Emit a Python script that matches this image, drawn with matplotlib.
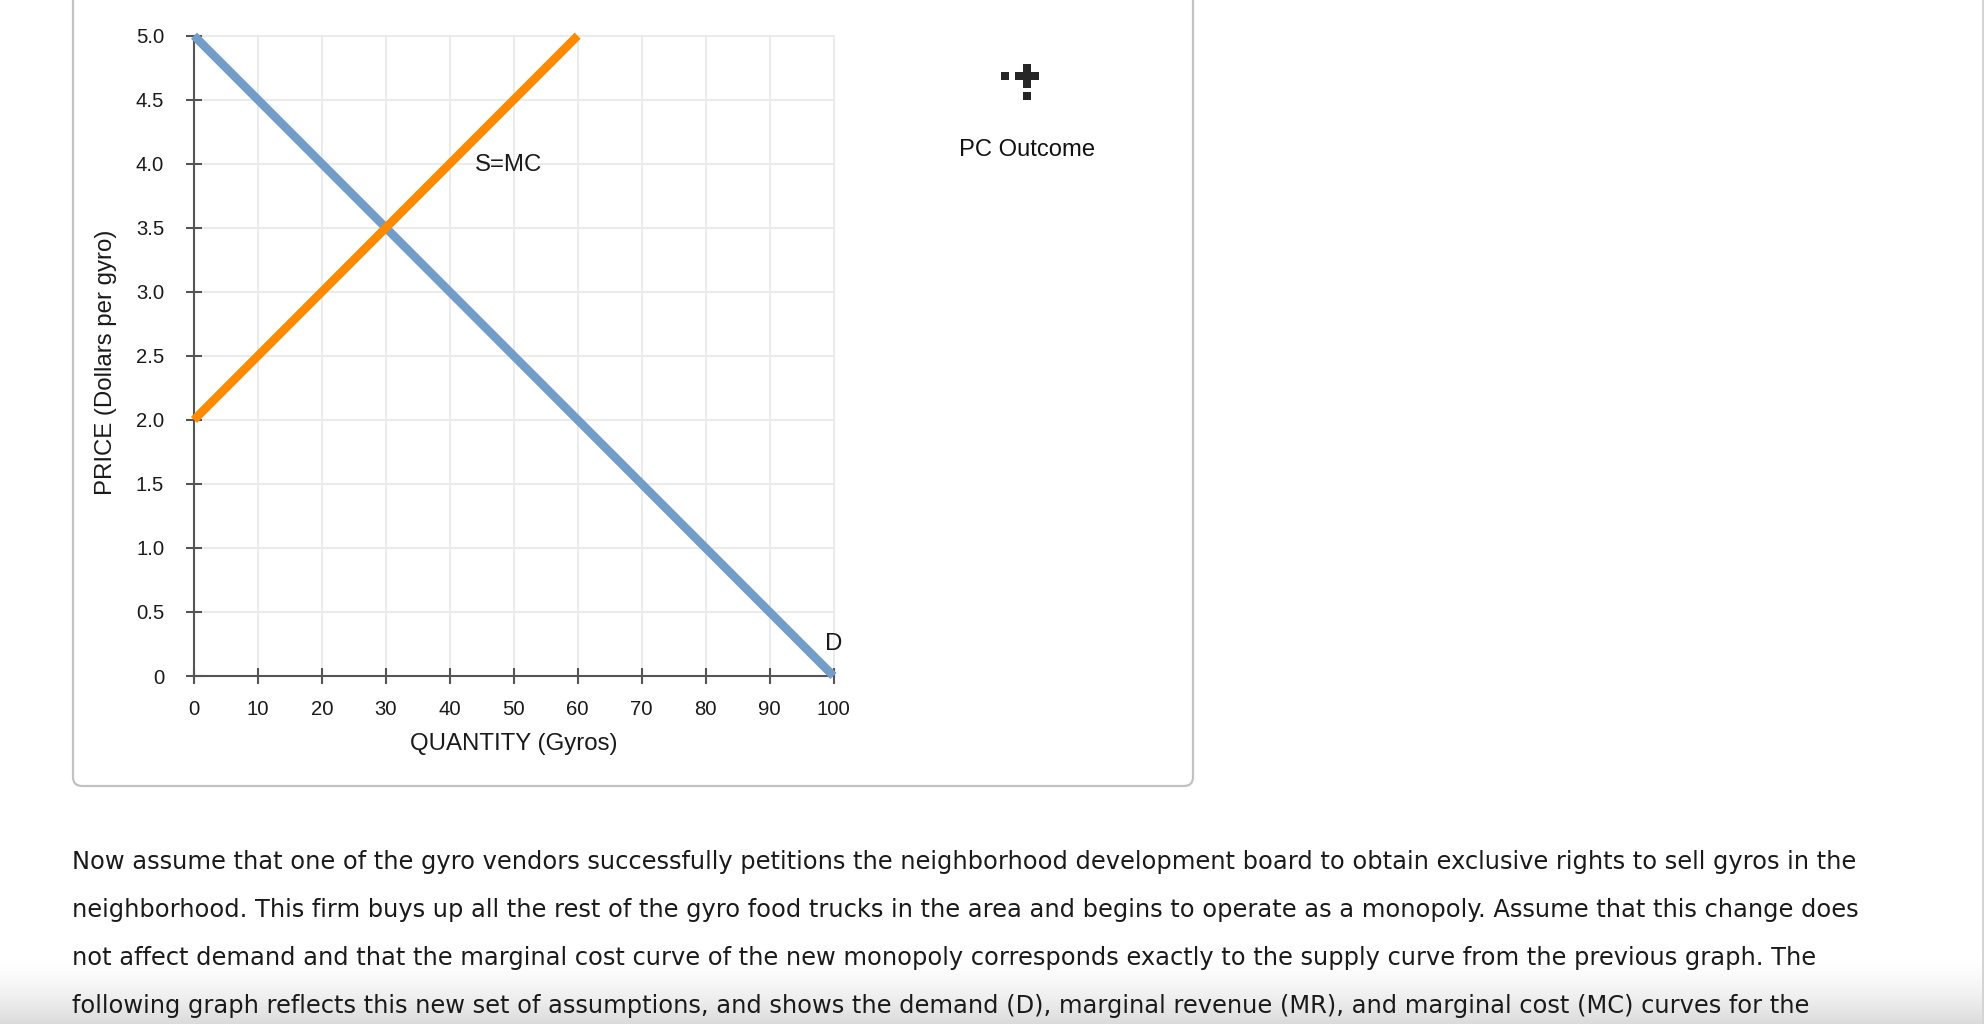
import numpy as np
import matplotlib
matplotlib.use("Agg")
import matplotlib.pyplot as plt
from matplotlib.patches import FancyBboxPatch, Rectangle

# ---- data ----
demand_qty = [0, 100]
demand_price = [5.0, 0.0]
supply_qty = [0, 60]
supply_price = [2.0, 5.0]
x_ticks = [0, 10, 20, 30, 40, 50, 60, 70, 80, 90, 100]
y_ticks = [0, 0.5, 1.0, 1.5, 2.0, 2.5, 3.0, 3.5, 4.0, 4.5, 5.0]
y_tick_labels = ["0", "0.5", "1.0", "1.5", "2.0", "2.5", "3.0", "3.5", "4.0", "4.5", "5.0"]
body_lines = [
    "Now assume that one of the gyro vendors successfully petitions the neighborhood development board to obtain exclusive rights to sell gyros in the",
    "neighborhood. This firm buys up all the rest of the gyro food trucks in the area and begins to operate as a monopoly. Assume that this change does",
    "not affect demand and that the marginal cost curve of the new monopoly corresponds exactly to the supply curve from the previous graph. The",
    "following graph reflects this new set of assumptions, and shows the demand (D), marginal revenue (MR), and marginal cost (MC) curves for the",
]

W, H = 1984, 1024
fig = plt.figure(figsize=(W / 100, H / 100), dpi=100, facecolor="white")

# page overlay in pixel coordinates
page = fig.add_axes([0, 0, 1, 1], zorder=0)
page.set_xlim(0, W)
page.set_ylim(H, 0)
page.axis("off")

# bottom fade
grad = np.linspace(0, 1, 68)[:, None] ** 1.6
rgba = np.ones((68, 1, 4))
rgba[..., :3] = 0.86
rgba[..., 3] = grad
page.imshow(rgba, extent=[0, W, H, 956], aspect="auto", zorder=0, interpolation="bilinear")
page.set_xlim(0, W)
page.set_ylim(H, 0)

# scrollbar edge
page.add_patch(Rectangle((1982, 0), 2, H, fc="#d4d4d4", ec="none", zorder=1))

# card
page.add_patch(FancyBboxPatch((73, -60), 1120, 846, boxstyle="round,pad=0,rounding_size=9",
                              fc="white", ec="#c2c2c2", lw=1.6, zorder=1))

# icon
icon = "#262626"
for (x, y, w, h) in [(1001, 72, 8, 8), (1015, 72, 24, 8), (1023, 64, 8, 24), (1023, 92, 8, 8)]:
    page.add_patch(Rectangle((x, y), w, h, fc=icon, ec="none", zorder=2))

sans = "Liberation Sans"
page.text(1027, 149.5, "PC Outcome", family=sans, fontsize=17.1, ha="center", va="center", color="#111111")

baselines = [869.5, 917.5, 965.5, 1013.5]
for line, yb in zip(body_lines, baselines):
    page.text(72, yb, line, family="DejaVu Sans", fontsize=17.4, ha="left", va="baseline", color="#1a1a1a")

# chart
x0, x1, y0, y1 = 194, 833.5, 676, 35.7
ax = fig.add_axes([x0 / W, 1 - y0 / H, (x1 - x0) / W, (y0 - y1) / H], zorder=3)
ax.patch.set_alpha(0)
ax.set_xlim(0, 100)
ax.set_ylim(0, 5)
for s in ("top", "right"):
    ax.spines[s].set_visible(False)
for s in ("left", "bottom"):
    ax.spines[s].set_color("#555555")
    ax.spines[s].set_linewidth(1.5)
    ax.spines[s].set_zorder(2)
ax.set_xticks(x_ticks)
ax.set_yticks(y_ticks)
ax.set_yticklabels(y_tick_labels)
ax.grid(True, color="#ebebeb", lw=1.4, zorder=0, clip_on=False)
ax.set_axisbelow(True)
ax.tick_params(axis="both", direction="inout", length=11.5, width=1.5, color="#555555",
               labelsize=14.6, labelcolor="#1a1a1a")
ax.tick_params(axis="x", pad=11.3)
ax.tick_params(axis="y", pad=15.7)
for lab in ax.get_xticklabels() + ax.get_yticklabels():
    lab.set_family(sans)

ax.set_xlabel("QUANTITY (Gyros)", family=sans, fontsize=17.3, color="#1a1a1a", labelpad=10.2)
ax.set_ylabel("PRICE (Dollars per gyro)", family=sans, fontsize=17.3, color="#1a1a1a", va="center")
ax.yaxis.set_label_coords(-0.138, 0.49)

ax.plot(demand_qty, demand_price, color="#729dc9", lw=6.2, solid_capstyle="butt", clip_on=False, zorder=4)
ax.plot(supply_qty, supply_price, color="#ff8a00", lw=6.2, solid_capstyle="butt", clip_on=False, zorder=5)

ax.text(49.2, 3.99, "S=MC", family=sans, fontsize=17.3, ha="center", va="center", color="#1a1a1a")
ax.text(100.1, 0.25, "D", family=sans, fontsize=17.3, ha="center", va="center", color="#1a1a1a", clip_on=False)

fig.savefig("out.png", dpi=100)
